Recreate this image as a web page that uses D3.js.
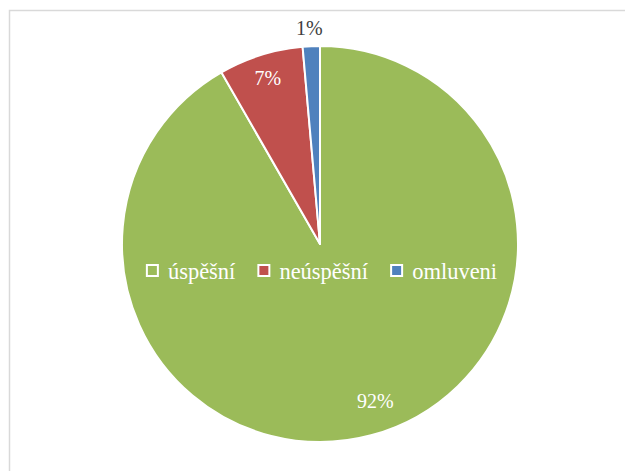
<!DOCTYPE html>
<html>
<head>
<meta charset="utf-8">
<script src="https://cdn.jsdelivr.net/npm/d3@7"></script>
<style>
  body { margin: 0; background: #fff; }
  svg text { font-family: "Liberation Serif", "DejaVu Serif", serif; }
</style>
</head>
<body>
<svg width="625" height="471"></svg>
<script>
// data
var categories = ["úspěšní", "neúspěšní", "omluveni"];
var values = [91.7, 6.9, 1.4];
var colors = ["#9BBB59", "#C0504D", "#4F81BD"];
// label radius as fraction of R, small angular nudge (deg), label colour
var labelRadius = [0.84, 0.88, 1.09];
var labelShift = [-4.5, 0, -0.3];
var labelColor = ["#fff", "#fff", "#404040"];

var svg = d3.select("svg");
var cx = 320, cy = 244, R = 198;

// chart frame (cut off at right/bottom)
svg.append("rect")
    .attr("x", 9.5).attr("y", 10.5)
    .attr("width", 700).attr("height", 600)
    .attr("fill", "none")
    .attr("stroke", "#d9d9d9")
    .attr("stroke-width", 1.5);

var data = categories.map(function(c, i){ return {name: c, value: values[i], i: i}; });

var pie = d3.pie().sort(null).value(function(d){ return d.value; });
var arcs = pie(data);
var arc = d3.arc().innerRadius(0).outerRadius(R);

var g = svg.append("g").attr("transform", "translate(" + cx + "," + cy + ")");

g.selectAll("path")
    .data(arcs)
    .enter().append("path")
    .attr("d", arc)
    .attr("fill", function(d){ return colors[d.data.i]; })
    .attr("stroke", "#fff")
    .attr("stroke-width", 2)
    .attr("stroke-linejoin", "round");

g.selectAll("text.lbl")
    .data(arcs)
    .enter().append("text")
    .attr("class", "lbl")
    .attr("transform", function(d){
        var r = R * labelRadius[d.data.i];
        var a = (d.startAngle + d.endAngle) / 2 + labelShift[d.data.i] * Math.PI / 180;
        return "translate(" + (r * Math.sin(a)) + "," + (-r * Math.cos(a)) + ")";
    })
    .attr("text-anchor", "middle")
    .attr("dominant-baseline", "central")
    .attr("font-size", 20)
    .attr("fill", function(d){ return labelColor[d.data.i]; })
    .text(function(d){ return Math.round(d.data.value) + "%"; });

// legend, overlaid on the pie
var legend = svg.append("g");
var items = legend.selectAll("g")
    .data(data)
    .enter().append("g");
items.append("rect")
    .attr("x", 0).attr("y", -6)
    .attr("width", 11).attr("height", 11)
    .attr("fill", function(d){ return colors[d.i]; })
    .attr("stroke", "#fff")
    .attr("stroke-width", 2);
items.append("text")
    .attr("x", 21)
    .attr("y", 0)
    .attr("dominant-baseline", "central")
    .attr("font-size", 22.5)
    .attr("fill", "#fff")
    .text(function(d){ return d.name; });

var x = 0;
items.each(function(){
    var it = d3.select(this);
    it.attr("transform", "translate(" + x + ",0)");
    x += 21 + it.select("text").node().getComputedTextLength() + 23;
});
var total = x - 23;
legend.attr("transform", "translate(" + (322 - total / 2) + ",271)");
</script>
</body>
</html>
